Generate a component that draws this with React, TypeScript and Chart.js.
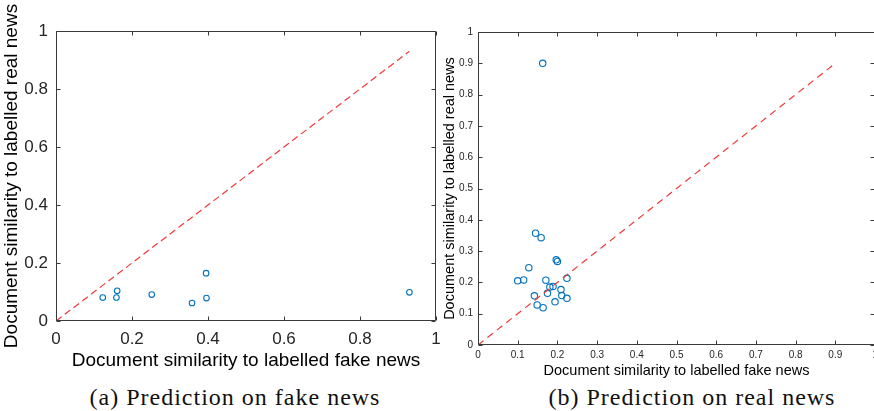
import React, { useEffect, useRef } from "react";
import { Chart, registerables } from "chart.js";

Chart.register(...registerables);

// ---- Data ----
const fakeNewsX = [0.123, 0.159, 0.161, 0.252, 0.358, 0.395, 0.396, 0.93];
const fakeNewsY = [0.081, 0.081, 0.104, 0.091, 0.062, 0.165, 0.079, 0.099];

const realNewsX = [
  0.163, 0.145, 0.159, 0.197, 0.2, 0.128, 0.1, 0.115, 0.171, 0.224,
  0.181, 0.189, 0.209, 0.175, 0.142, 0.211, 0.224, 0.194, 0.149, 0.164,
];
const realNewsY = [
  0.9, 0.357, 0.343, 0.272, 0.267, 0.247, 0.205, 0.208, 0.207, 0.213,
  0.185, 0.187, 0.177, 0.165, 0.157, 0.158, 0.149, 0.138, 0.128, 0.119,
];

const diagonalA = [0, 0.93];
const diagonalB = [0, 0.9];

const ticksA = [0, 0.2, 0.4, 0.6, 0.8, 1];
const ticksB = [0, 0.1, 0.2, 0.3, 0.4, 0.5, 0.6, 0.7, 0.8, 0.9, 1];

const xTitle = "Document similarity to labelled fake news";
const yTitle = "Document similarity to labelled real news";
const captionA = "(a) Prediction on fake news";
const captionB = "(b) Prediction on real news";

const SANS = "'Liberation Sans', Arial, sans-serif";
const AXIS_COLOR = "#3a3a3a";
const TEXT_COLOR = "#262626";
const POINT_COLOR = "#0072BD";
const LINE_COLOR = "#f03a3a";

const boxPlugin = {
  id: "matlabBox",
  afterDatasetsDraw(chart: any, _args: any, opts: any) {
    const { ctx, chartArea: a, scales } = chart;
    const len = opts.tickLen || 4;
    ctx.save();
    ctx.strokeStyle = opts.color || AXIS_COLOR;
    ctx.lineWidth = 1;
    const L = Math.round(a.left) + 0.5;
    const R = Math.round(a.right) - 0.5;
    const T = Math.round(a.top) + 0.5;
    const B = Math.round(a.bottom) - 0.5;
    ctx.beginPath();
    ctx.rect(L, T, R - L, B - T);
    ctx.stroke();
    ctx.beginPath();
    for (const t of scales.x.ticks) {
      const p = Math.round(scales.x.getPixelForValue(t.value)) + 0.5;
      ctx.moveTo(p, B);
      ctx.lineTo(p, B - len);
      ctx.moveTo(p, T);
      ctx.lineTo(p, T + len);
    }
    for (const t of scales.y.ticks) {
      const p = Math.round(scales.y.getPixelForValue(t.value)) + 0.5;
      ctx.moveTo(L, p);
      ctx.lineTo(L + len, p);
      ctx.moveTo(R, p);
      ctx.lineTo(R - len, p);
    }
    ctx.stroke();
    ctx.restore();
  },
};

type Geo = {
  left: number;
  width: number;
  height: number;
  padTop: number;
  padRight: number;
  yAxisWidth: number;
  xAxisHeight: number;
  tickFont: number;
  titleFont: number;
  tickPadX: number;
  tickPadY: number;
  yTitlePad: number;
  xTitlePad: number;
  pointRadius: number;
  tickLen: number;
  dash: number[];
};

function Panel(props: {
  xs: number[];
  ys: number[];
  diag: number[];
  ticks: number[];
  geo: Geo;
}) {
  const ref = useRef<HTMLCanvasElement | null>(null);
  const { xs, ys, diag, ticks, geo } = props;
  useEffect(() => {
    if (!ref.current) return;
    const points = xs.map((x, i) => ({ x, y: ys[i] }));
    const line = diag.map((v) => ({ x: v, y: v }));
    const fmt = (v: any) => String(Number(Number(v).toFixed(2)));
    const setTicks = (s: any) => {
      s.ticks = ticks.map((v) => ({ value: v }));
    };
    const chart = new Chart(ref.current, {
      type: "scatter",
      data: {
        datasets: [
          {
            type: "line",
            data: line,
            borderColor: LINE_COLOR,
            borderWidth: 1.2,
            borderDash: geo.dash,
            pointRadius: 0,
            fill: false,
          } as any,
          {
            type: "scatter",
            data: points,
            borderColor: POINT_COLOR,
            backgroundColor: "rgba(0,0,0,0)",
            borderWidth: 1.1,
            pointRadius: geo.pointRadius,
            pointHoverRadius: geo.pointRadius,
          },
        ],
      },
      options: {
        animation: false,
        responsive: false,
        events: [],
        layout: {
          padding: { top: geo.padTop, right: geo.padRight, left: 0, bottom: 0 },
        },
        plugins: {
          legend: { display: false },
          tooltip: { enabled: false },
          matlabBox: { tickLen: geo.tickLen, color: AXIS_COLOR },
        } as any,
        scales: {
          x: {
            type: "linear",
            min: 0,
            max: 1,
            afterBuildTicks: setTicks,
            afterFit: (s: any) => {
              s.height = geo.xAxisHeight;
              s.paddingLeft = 0;
              s.paddingRight = 0;
            },
            grid: { display: false, drawTicks: false },
            border: { display: false },
            ticks: {
              padding: geo.tickPadX,
              maxRotation: 0,
              autoSkip: false,
              color: TEXT_COLOR,
              font: { family: SANS, size: geo.tickFont },
              callback: fmt,
            },
            title: {
              display: true,
              text: xTitle,
              color: "#000",
              padding: { top: 0, bottom: geo.xTitlePad },
              font: { family: SANS, size: geo.titleFont, lineHeight: 1.2 },
            },
          },
          y: {
            type: "linear",
            min: 0,
            max: 1,
            afterBuildTicks: setTicks,
            afterFit: (s: any) => {
              s.width = geo.yAxisWidth;
              s.paddingTop = 0;
              s.paddingBottom = 0;
            },
            grid: { display: false, drawTicks: false },
            border: { display: false },
            ticks: {
              padding: geo.tickPadY,
              autoSkip: false,
              color: TEXT_COLOR,
              font: { family: SANS, size: geo.tickFont },
              callback: fmt,
            },
            title: {
              display: true,
              text: yTitle,
              color: "#000",
              padding: { top: geo.yTitlePad, bottom: 0 },
              font: { family: SANS, size: geo.titleFont, lineHeight: 1.2 },
            },
          },
        },
      },
      plugins: [boxPlugin],
    });
    return () => chart.destroy();
  }, []);
  return (
    <canvas
      ref={ref}
      width={geo.width}
      height={geo.height}
      style={{
        position: "absolute",
        left: geo.left,
        top: 0,
        width: geo.width,
        height: geo.height,
      }}
    />
  );
}

const geoA: Geo = {
  left: 0,
  width: 440,
  height: 372,
  padTop: 31,
  padRight: 4,
  yAxisWidth: 56,
  xAxisHeight: 51,
  tickFont: 17,
  titleFont: 19,
  tickPadX: 8,
  tickPadY: 8,
  yTitlePad: 0,
  xTitlePad: 0,
  pointRadius: 2.8,
  tickLen: 4,
  dash: [7, 4],
};

const geoB: Geo = {
  left: 440,
  width: 440,
  height: 380,
  padTop: 32,
  padRight: 5,
  yAxisWidth: 38,
  xAxisHeight: 35,
  tickFont: 10,
  titleFont: 14.5,
  tickPadX: 4,
  tickPadY: 5,
  yTitlePad: 1,
  xTitlePad: 0,
  pointRadius: 3.2,
  tickLen: 4,
  dash: [7, 5],
};

const captionStyle: React.CSSProperties = {
  position: "absolute",
  top: 383,
  transform: "translateX(-50%)",
  whiteSpace: "nowrap",
  fontFamily: "'Liberation Serif', 'Times New Roman', serif",
  fontSize: 24,
  letterSpacing: 1,
  lineHeight: "28px",
  color: "#111",
};

export default function App() {
  return (
    <div
      style={{
        position: "fixed",
        left: 0,
        top: 0,
        width: 874,
        height: 411,
        overflow: "hidden",
        background: "#fff",
      }}
    >
      <Panel xs={fakeNewsX} ys={fakeNewsY} diag={diagonalA} ticks={ticksA} geo={geoA} />
      <Panel xs={realNewsX} ys={realNewsY} diag={diagonalB} ticks={ticksB} geo={geoB} />
      <div style={{ ...captionStyle, left: 235 }}>{captionA}</div>
      <div style={{ ...captionStyle, left: 692 }}>{captionB}</div>
    </div>
  );
}
